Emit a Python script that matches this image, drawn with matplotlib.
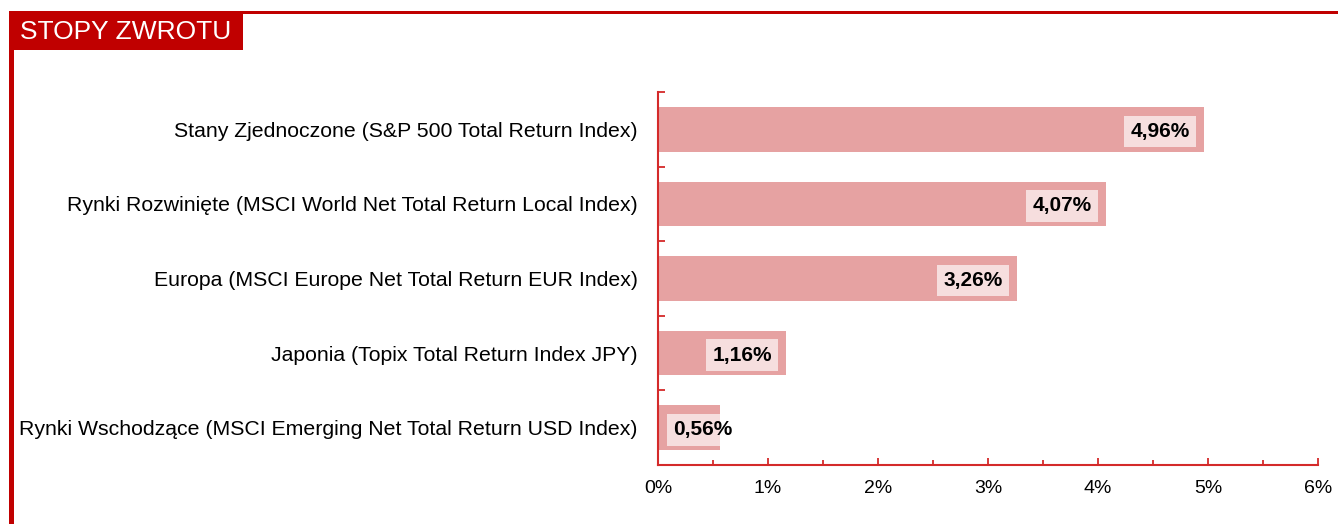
import matplotlib.pyplot as plt
from matplotlib.patches import Rectangle

plt.rcParams['font.family'] = ['Liberation Sans', 'DejaVu Sans']

categories = [
    'Stany Zjednoczone (S&P 500 Total Return Index)',
    'Rynki Rozwinięte (MSCI World Net Total Return Local Index)',
    'Europa (MSCI Europe Net Total Return EUR Index)',
    'Japonia (Topix Total Return Index JPY)',
    'Rynki Wschodzące (MSCI Emerging Net Total Return USD Index)',
]
returns = [4.96, 4.07, 3.26, 1.16, 0.56]
xticks = [0, 1, 2, 3, 4, 5, 6]
title = 'STOPY ZWROTU'

dark_red = '#C00000'
axis_red = '#D42A2A'
bar_col = '#E6A2A2'
box_col = '#F6DEDE'

W, H = 1338, 524
fig = plt.figure(figsize=(W / 100, H / 100), dpi=100)

# frame and title box (pixel coords -> figure fraction)
def px_rect(x0, y0, x1, y1, color):
    fig.patches.append(Rectangle((x0 / W, 1 - y1 / H), (x1 - x0) / W, (y1 - y0) / H,
                                 transform=fig.transFigure, color=color, lw=0, zorder=0))

px_rect(9, 11, W, 14, dark_red)
px_rect(9, 11, 14, H, dark_red)
px_rect(9, 11, 243, 50, dark_red)
fig.text(20 / W, 1 - 32 / H, title, color='white', fontsize=19, va='center', ha='left')

ax = fig.add_axes([658 / W, 1 - 465 / H, (1318 - 658) / W, (465 - 92) / H])
y = list(range(len(categories)))
bars = ax.barh(y, returns, height=0.6, color=bar_col, edgecolor='none')
ax.set_ylim(len(categories) - 0.5, -0.5)
ax.set_xlim(0, 6)

ax.set_yticks(y)
ax.set_yticklabels(categories, fontsize=15.3)
ax.set_yticks([i - 0.5 for i in range(len(categories) + 1)], minor=True)
ax.tick_params(axis='y', which='major', length=0, pad=14.5)
ax.tick_params(axis='y', which='minor', length=5, direction='in', color=axis_red, width=1.3)

ax.set_xticks(xticks)
ax.set_xticklabels([f'{t}%' for t in xticks], fontsize=14)
ax.set_xticks([t + 0.5 for t in xticks[:-1]], minor=True)
ax.tick_params(axis='x', which='major', length=5, direction='in', color=axis_red, width=1.3, pad=11)
ax.tick_params(axis='x', which='minor', length=3.5, direction='in', color=axis_red, width=1.3)

for s in ['top', 'right']:
    ax.spines[s].set_visible(False)
for s in ['left', 'bottom']:
    ax.spines[s].set_color(axis_red)
    ax.spines[s].set_linewidth(1.5)

for yi, v, bar in zip(y, returns, bars):
    lab = f'{v:.2f}%'.replace('.', ',')
    box = dict(boxstyle='square,pad=0.3', fc=box_col, ec='none')
    if v > 1:
        t = ax.annotate(lab, (v, yi), xytext=(-10, -1.5), textcoords='offset points',
                        ha='right', va='center', fontsize=15, fontweight='bold', bbox=box)
    else:
        t = ax.annotate(lab, (0, yi), xytext=(10.8, -1.5), textcoords='offset points',
                        ha='left', va='center', fontsize=15, fontweight='bold', bbox=box)
    # label box does not reach past the bar end
    t.get_bbox_patch().set_clip_path(bar)

fig.savefig('out.png', dpi=100)
